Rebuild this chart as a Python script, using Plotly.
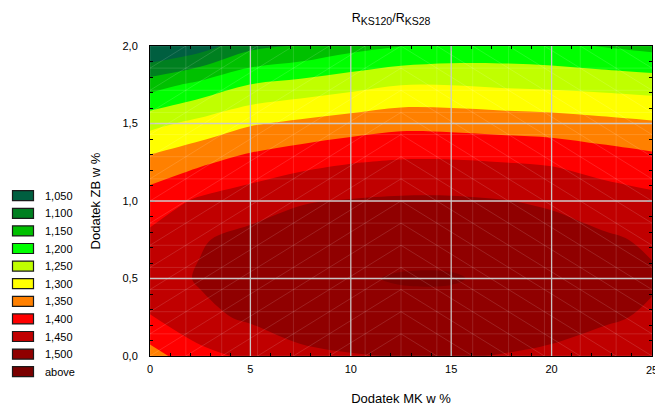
import numpy as np
import plotly.graph_objects as go

# ---- data ----
x_mk = [0, 2.5, 5, 7.5, 10, 12.5, 15, 17.5, 20, 22.5, 25]
y_zb = [0, 0.25, 0.5, 0.75, 1.0, 1.25, 1.5, 1.75, 2.0]

# z values per column (x), listed from y=0 up to y=2.0
col_x00 = [1.330, 1.398, 1.424, 1.412, 1.374, 1.316, 1.235, 1.128, 0.990]
col_x025 = [1.385, 1.437, 1.455, 1.446, 1.408, 1.342, 1.265, 1.164, 1.026]
col_x05 = [1.410, 1.458, 1.468, 1.465, 1.426, 1.368, 1.295, 1.201, 1.086]
col_x075 = [1.440, 1.472, 1.482, 1.472, 1.447, 1.385, 1.310, 1.217, 1.105]
col_x10 = [1.447, 1.483, 1.497, 1.485, 1.453, 1.398, 1.324, 1.233, 1.132]
col_x125 = [1.452, 1.490, 1.502, 1.490, 1.457, 1.405, 1.336, 1.249, 1.149]
col_x15 = [1.454, 1.490, 1.502, 1.490, 1.457, 1.405, 1.334, 1.249, 1.161]
col_x175 = [1.448, 1.483, 1.495, 1.483, 1.452, 1.400, 1.329, 1.243, 1.165]
col_x20 = [1.440, 1.472, 1.485, 1.472, 1.443, 1.395, 1.324, 1.239, 1.161]
col_x225 = [1.425, 1.458, 1.470, 1.458, 1.425, 1.380, 1.315, 1.234, 1.148]
col_x25 = [1.410, 1.443, 1.456, 1.443, 1.413, 1.367, 1.306, 1.228, 1.135]

levels = [1.05, 1.10, 1.15, 1.20, 1.25, 1.30, 1.35, 1.40, 1.45, 1.50]
legend_labels = ["1,050", "1,100", "1,150", "1,200", "1,250", "1,300",
                 "1,350", "1,400", "1,450", "1,500", "above"]
band_colors = ["#005F40", "#008020", "#00C000", "#00FF00", "#C0FF00", "#FFFF00",
               "#FF8000", "#FF0000", "#C00000", "#900000", "#7A0000"]

x_ticks = [0, 5, 10, 15, 20, 25]
y_ticks = [0.0, 0.5, 1.0, 1.5, 2.0]
y_ticktext = ["0,0", "0,5", "1,0", "1,5", "2,0"]

# ---- build figure ----
cols = [col_x00, col_x025, col_x05, col_x075, col_x10, col_x125,
        col_x15, col_x175, col_x20, col_x225, col_x25]
z = np.array(cols).T  # rows = y, columns = x

n = len(band_colors)
colorscale = [[i / (n - 1), c] for i, c in enumerate(band_colors)]

fig = go.Figure()
fig.add_trace(go.Contour(
    x=x_mk, y=y_zb, z=z,
    autocontour=False,
    contours=dict(start=levels[0], end=levels[-1], size=0.05, coloring="fill"),
    colorscale=colorscale,
    line=dict(width=0, smoothing=1.0),
    showscale=False,
    hoverinfo="skip",
))

# faint triangulation mesh (decorative, as in the reference)
xmin, xmax, ymin, ymax = x_mk[0], x_mk[-1], y_zb[0], y_zb[-1]
gx = np.linspace(xmin, xmax, 15)
gy = np.linspace(ymin, ymax, 15)
mx, my = [], []
for v in gx:
    mx += [v, v, None]; my += [ymin, ymax, None]
for v in gy:
    mx += [xmin, xmax, None]; my += [v, v, None]
half = 7
for i in range(14):
    for j in range(14):
        if i < half:
            mx += [gx[i], gx[i + 1], None]; my += [gy[j], gy[j + 1], None]
        else:
            mx += [gx[i], gx[i + 1], None]; my += [gy[j + 1], gy[j], None]
fig.add_trace(go.Scatter(x=mx, y=my, mode="lines",
                         line=dict(color="rgba(255,255,255,0.22)", width=0.6),
                         hoverinfo="skip", showlegend=False))

# major grid lines above the filled contours
for v in x_ticks[1:-1]:
    fig.add_shape(type="line", x0=v, x1=v, y0=ymin, y1=ymax, xref="x", yref="y",
                  line=dict(color="rgba(205,205,205,0.95)", width=1.3), layer="above")
for v in y_ticks[1:-1]:
    fig.add_shape(type="line", x0=xmin, x1=xmax, y0=v, y1=v, xref="x", yref="y",
                  line=dict(color="rgba(205,205,205,0.95)", width=1.3), layer="above")

# custom legend (Statistica style)
W, H = 655, 406
PL, PR, PT, PB = 150, 652, 46, 356
top_px, step_px = 195.7, 17.6
for k, (lab, col) in enumerate(zip(legend_labels, band_colors)):
    cy = top_px + k * step_px
    fig.add_shape(type="rect", xref="paper", yref="paper",
                  x0=(12.5 - PL) / (PR - PL), x1=(33.5 - PL) / (PR - PL),
                  y0=(PB - (cy + 5)) / (PB - PT), y1=(PB - (cy - 5)) / (PB - PT),
                  fillcolor=col, line=dict(color="#1a1a1a", width=1.2))
    fig.add_annotation(xref="paper", yref="paper",
                       x=(43 - PL) / (PR - PL), y=(PB - cy) / (PB - PT),
                       text=lab, showarrow=False, xanchor="left", yanchor="middle",
                       font=dict(family="Liberation Sans, Arial", size=11, color="#000"))

# last x tick label, which runs off the right edge of the picture (clipped there)
fig.add_annotation(xref="x", yref="paper", x=x_ticks[-1], y=-(370 - PB) / (PB - PT),
                   text=str(x_ticks[-1]), showarrow=False, xanchor="center",
                   yanchor="middle",
                   font=dict(family="Liberation Sans, Arial", size=11, color="#000"))

fig.update_layout(
    width=W, height=H,
    margin=dict(l=PL, r=W - PR, t=PT, b=H - PB, pad=0, autoexpand=False),
    paper_bgcolor="white", plot_bgcolor="white",
    showlegend=False,
    font=dict(family="Liberation Sans, Arial", size=11, color="#000"),
    title=dict(text='R<sub><span style="font-size:10.5px">KS120</span></sub>/R'
                    '<sub><span style="font-size:10.5px">KS28</span></sub>',
               x=391 / W, xanchor="center",
               y=1 - 18 / H, yanchor="middle",
               font=dict(family="Liberation Sans, Arial", size=12.5, color="#000")),
    xaxis=dict(range=[xmin, xmax], tickvals=x_ticks, ticks="inside", ticklen=5,
               showgrid=False, zeroline=False, showline=True, linecolor="#000",
               linewidth=1, mirror="ticks", ticklabelstandoff=3, automargin=False,
               minor=dict(dtick=1, ticks="inside", ticklen=3, tickcolor="#000"),
               title=dict(text="Dodatek MK w %", standoff=21),
               tickfont=dict(size=11)),
    yaxis=dict(range=[ymin, ymax], tickvals=y_ticks, ticktext=y_ticktext,
               ticks="inside", ticklen=5,
               showgrid=False, zeroline=False, showline=True, linecolor="#000",
               linewidth=1, mirror="ticks", ticklabelstandoff=9, automargin=False,
               minor=dict(dtick=0.1, ticks="inside", ticklen=3, tickcolor="#000"),
               title=dict(text="Dodatek ZB w %", standoff=18),
               tickfont=dict(size=11)),
)

fig.write_html(
    "out.html", config={"displayModeBar": False},
    post_script=("document.body.style.margin='0px';"
                 "document.body.style.overflow='hidden';"
                 "document.documentElement.style.overflow='hidden';"))
